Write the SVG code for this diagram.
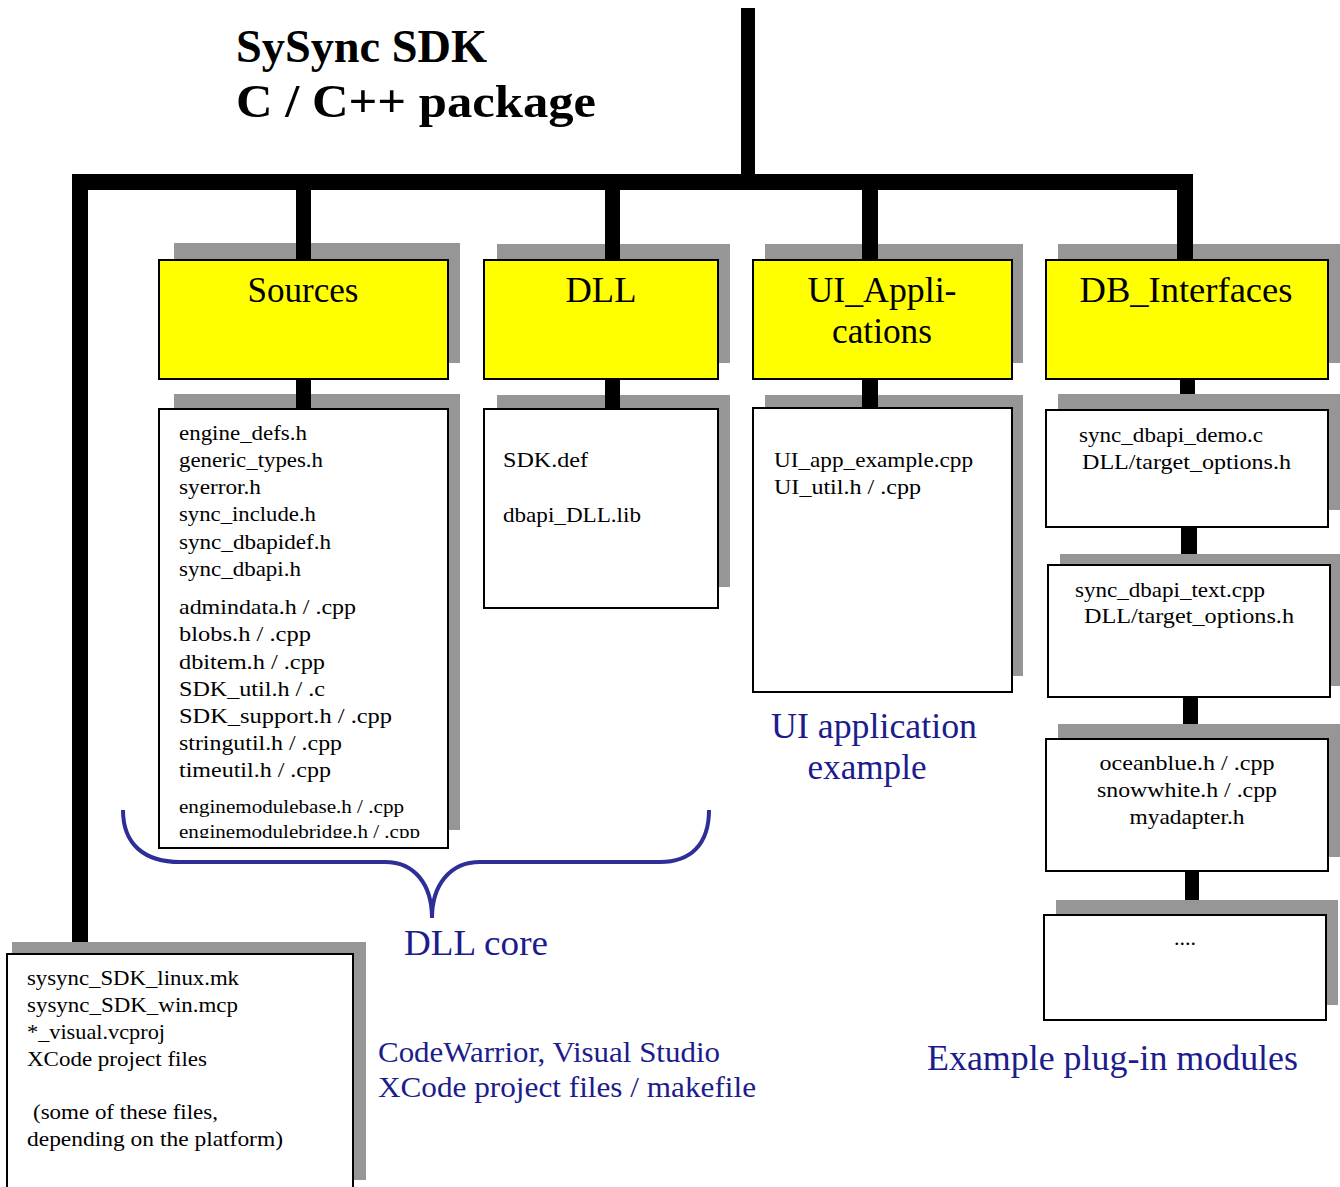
<svg xmlns="http://www.w3.org/2000/svg" width="1340" height="1187" viewBox="0 0 1340 1187">
<style>
.sh{fill:#969696}
.yb{fill:#ffff00;stroke:#000;stroke-width:2}
.wb{fill:#fff;stroke:#000;stroke-width:2}
.bar{fill:#000}
.t{font-family:"Liberation Serif","Times New Roman",serif;fill:#000}
.f{font-size:22px}
.h{font-size:35px}
.b{font-family:"Liberation Serif","Times New Roman",serif;fill:#1c1c8c}
</style>
<defs>
<clipPath id="srcclip"><rect x="160" y="410" width="287" height="428"/></clipPath>
</defs>
<rect width="1340" height="1187" fill="#fff"/>

<g id="title">
<text class="t" x="236" y="62" font-size="46" font-weight="bold" textLength="251" lengthAdjust="spacingAndGlyphs">SySync SDK</text>
<text class="t" x="236" y="117" font-size="46" font-weight="bold" textLength="360" lengthAdjust="spacingAndGlyphs">C / C++ package</text>
</g>

<g id="connectors">
<rect class="bar" x="741" y="8" width="14" height="182"/>
<rect class="bar" x="72" y="174" width="1121" height="16"/>
<rect class="bar" x="72" y="174" width="16" height="770"/>
<rect class="bar" x="296" y="190" width="15" height="70"/>
<rect class="bar" x="605" y="190" width="15" height="70"/>
<rect class="bar" x="862" y="190" width="16" height="70"/>
<rect class="bar" x="1177" y="190" width="16" height="70"/>
<rect class="bar" x="296" y="379" width="15" height="31"/>
<rect class="bar" x="605" y="379" width="15" height="31"/>
<rect class="bar" x="862" y="379" width="16" height="31"/>
<rect class="bar" x="1180" y="379" width="15" height="32"/>
<rect class="bar" x="1181" y="527" width="16" height="39"/>
<rect class="bar" x="1183" y="697" width="15" height="43"/>
<rect class="bar" x="1185" y="871" width="14" height="45"/>
</g>

<g id="sources">
<rect class="sh" x="174" y="243" width="286" height="120"/>
<rect class="yb" x="159" y="260" width="289" height="119"/>
<rect class="bar" x="296" y="243" width="15" height="17"/>
<text class="t h" x="303" y="302" text-anchor="middle" textLength="111" lengthAdjust="spacingAndGlyphs">Sources</text>
</g>

<g id="sources-files">
<rect class="sh" x="174" y="394" width="286" height="436"/>
<rect class="wb" x="159" y="409" width="289" height="439"/>
<rect class="bar" x="296" y="394" width="15" height="15"/>
<g class="t f" clip-path="url(#srcclip)" lengthAdjust="spacingAndGlyphs">
<text x="179" y="440" textLength="128" lengthAdjust="spacingAndGlyphs">engine_defs.h</text>
<text x="179" y="467" textLength="144" lengthAdjust="spacingAndGlyphs">generic_types.h</text>
<text x="179" y="494" textLength="82" lengthAdjust="spacingAndGlyphs">syerror.h</text>
<text x="179" y="521" textLength="137" lengthAdjust="spacingAndGlyphs">sync_include.h</text>
<text x="179" y="549" textLength="152" lengthAdjust="spacingAndGlyphs">sync_dbapidef.h</text>
<text x="179" y="576" textLength="122" lengthAdjust="spacingAndGlyphs">sync_dbapi.h</text>
<text x="179" y="614" textLength="177" lengthAdjust="spacingAndGlyphs">admindata.h / .cpp</text>
<text x="179" y="641" textLength="132" lengthAdjust="spacingAndGlyphs">blobs.h / .cpp</text>
<text x="179" y="669" textLength="146" lengthAdjust="spacingAndGlyphs">dbitem.h / .cpp</text>
<text x="179" y="696" textLength="146" lengthAdjust="spacingAndGlyphs">SDK_util.h / .c</text>
<text x="179" y="723" textLength="213" lengthAdjust="spacingAndGlyphs">SDK_support.h / .cpp</text>
<text x="179" y="750" textLength="163" lengthAdjust="spacingAndGlyphs">stringutil.h / .cpp</text>
<text x="179" y="777" textLength="152" lengthAdjust="spacingAndGlyphs">timeutil.h / .cpp</text>
<text x="179" y="813" font-size="19" textLength="225" lengthAdjust="spacingAndGlyphs">enginemodulebase.h / .cpp</text>
<text x="179" y="838" font-size="19" textLength="241" lengthAdjust="spacingAndGlyphs">enginemodulebridge.h / .cpp</text>
</g>
</g>

<g id="dll">
<rect class="sh" x="497" y="244" width="233" height="119"/>
<rect class="yb" x="484" y="260" width="234" height="119"/>
<rect class="bar" x="605" y="244" width="15" height="16"/>
<text class="t h" x="601" y="302" text-anchor="middle" textLength="71" lengthAdjust="spacingAndGlyphs">DLL</text>
</g>

<g id="dll-files">
<rect class="sh" x="497" y="395" width="233" height="192"/>
<rect class="wb" x="484" y="409" width="234" height="199"/>
<rect class="bar" x="605" y="395" width="15" height="14"/>
<text class="t f" x="503" y="467" textLength="85" lengthAdjust="spacingAndGlyphs">SDK.def</text>
<text class="t f" x="503" y="522" textLength="138" lengthAdjust="spacingAndGlyphs">dbapi_DLL.lib</text>
</g>

<g id="ui">
<rect class="sh" x="765" y="244" width="258" height="119"/>
<rect class="yb" x="753" y="260" width="259" height="119"/>
<rect class="bar" x="862" y="244" width="16" height="16"/>
<text class="t h" x="882" y="302" text-anchor="middle" textLength="149" lengthAdjust="spacingAndGlyphs">UI_Appli-</text>
<text class="t h" x="882" y="343" text-anchor="middle" textLength="100" lengthAdjust="spacingAndGlyphs">cations</text>
</g>

<g id="ui-files">
<rect class="sh" x="765" y="395" width="258" height="281"/>
<rect class="wb" x="753" y="408" width="259" height="284"/>
<rect class="bar" x="862" y="395" width="16" height="13"/>
<text class="t f" x="774" y="467" textLength="199" lengthAdjust="spacingAndGlyphs">UI_app_example.cpp</text>
<text class="t f" x="774" y="494" textLength="147" lengthAdjust="spacingAndGlyphs">UI_util.h / .cpp</text>
</g>

<g id="ui-label">
<text class="b" font-size="35" x="874" y="738" text-anchor="middle" textLength="206" lengthAdjust="spacingAndGlyphs">UI application</text>
<text class="b" font-size="35" x="867" y="779" text-anchor="middle" textLength="119" lengthAdjust="spacingAndGlyphs">example</text>
</g>

<g id="db">
<rect class="sh" x="1058" y="244" width="282" height="119"/>
<rect class="yb" x="1046" y="260" width="282" height="119"/>
<rect class="bar" x="1177" y="244" width="16" height="16"/>
<text class="t h" x="1186" y="302" text-anchor="middle" textLength="213" lengthAdjust="spacingAndGlyphs">DB_Interfaces</text>
</g>

<g id="db-demo">
<rect class="sh" x="1058" y="394" width="282" height="116"/>
<rect class="wb" x="1046" y="410" width="282" height="117"/>
<text class="t f" x="1079" y="442" textLength="184" lengthAdjust="spacingAndGlyphs">sync_dbapi_demo.c</text>
<text class="t f" x="1082" y="469" textLength="209" lengthAdjust="spacingAndGlyphs">DLL/target_options.h</text>
</g>

<g id="db-text">
<rect class="sh" x="1060" y="554" width="280" height="132"/>
<rect class="wb" x="1048" y="565" width="282" height="132"/>
<text class="t f" x="1075" y="597" textLength="190" lengthAdjust="spacingAndGlyphs">sync_dbapi_text.cpp</text>
<text class="t f" x="1084" y="623" textLength="210" lengthAdjust="spacingAndGlyphs">DLL/target_options.h</text>
</g>

<g id="db-adapters">
<rect class="sh" x="1058" y="724" width="282" height="133"/>
<rect class="wb" x="1046" y="739" width="282" height="132"/>
<text class="t f" x="1187" y="770" text-anchor="middle" textLength="175" lengthAdjust="spacingAndGlyphs">oceanblue.h / .cpp</text>
<text class="t f" x="1187" y="797" text-anchor="middle" textLength="180" lengthAdjust="spacingAndGlyphs">snowwhite.h / .cpp</text>
<text class="t f" x="1187" y="824" text-anchor="middle" textLength="115" lengthAdjust="spacingAndGlyphs">myadapter.h</text>
</g>

<g id="db-more">
<rect class="sh" x="1056" y="900" width="282" height="105"/>
<rect class="wb" x="1044" y="915" width="282" height="105"/>
<text class="t f" x="1185" y="945" text-anchor="middle">....</text>
</g>

<g id="db-label">
<text class="b" font-size="35" x="927" y="1070" textLength="371" lengthAdjust="spacingAndGlyphs">Example plug-in modules</text>
</g>

<g id="dll-core">
<path d="M123,810 C123,845 145,862 180,862 L385,862 C415,862 432,885 432,918 C432,885 450,862 480,862 L660,862 C690,862 709,845 709,810" fill="none" stroke="#2e2e96" stroke-width="4"/>
<text class="b" font-size="35" x="404" y="955" textLength="144" lengthAdjust="spacingAndGlyphs">DLL core</text>
</g>

<g id="project-files">
<rect class="sh" x="12" y="942" width="354" height="238"/>
<rect class="wb" x="7" y="954" width="346" height="240"/>
<g class="t f">
<text x="27" y="985" textLength="212" lengthAdjust="spacingAndGlyphs">sysync_SDK_linux.mk</text>
<text x="27" y="1012" textLength="211" lengthAdjust="spacingAndGlyphs">sysync_SDK_win.mcp</text>
<text x="27" y="1039" textLength="138" lengthAdjust="spacingAndGlyphs">*_visual.vcproj</text>
<text x="27" y="1066" textLength="180" lengthAdjust="spacingAndGlyphs">XCode project files</text>
<text x="33" y="1119" textLength="185" lengthAdjust="spacingAndGlyphs">(some of these files,</text>
<text x="27" y="1146" textLength="256" lengthAdjust="spacingAndGlyphs">depending on the platform)</text>
</g>
</g>

<g id="project-label">
<text class="b" font-size="30" x="378" y="1062" textLength="342" lengthAdjust="spacingAndGlyphs">CodeWarrior, Visual Studio</text>
<text class="b" font-size="30" x="378" y="1097" textLength="378" lengthAdjust="spacingAndGlyphs">XCode project files / makefile</text>
</g>
</svg>
